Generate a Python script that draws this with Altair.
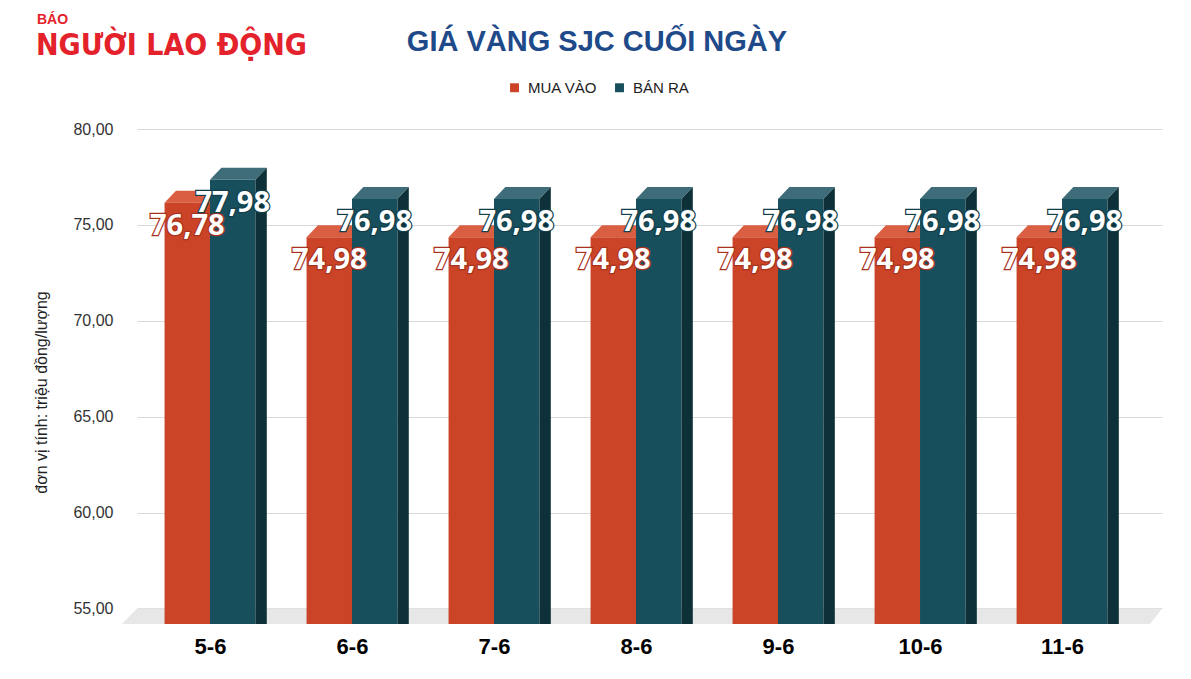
import altair as alt
import pandas as pd

# Values
dates = ["5-6", "6-6", "7-6", "8-6", "9-6", "10-6", "11-6"]
mua_vao = [76.78, 74.98, 74.98, 74.98, 74.98, 74.98, 74.98]
ban_ra = [77.98, 76.98, 76.98, 76.98, 76.98, 76.98, 76.98]
y_ticks = [55, 60, 65, 70, 75, 80]
series_names = ["MUA VÀO", "BÁN RA"]

RED_FRONT = "#CB4427"
RED_TOP = "#DA5E42"
RED_EDGE = "#A8321E"
TEAL_FRONT = "#184F5D"
TEAL_TOP = "#3E6D79"
TEAL_SIDE = "#0E3039"
TEAL_EDGE = "#123E49"
FLOOR = "#E7E7E7"
TITLE_BLUE = "#1F4A8A"
LOGO_RED = "#E3222B"
FONT = "Liberation Sans"

# fake 3D geometry, in data units
BAR_W = 0.32
DEPTH_X = 0.08
DEPTH_Y = 0.63
Y_MIN = 54.19
X_DOMAIN = [-0.514, 6.704]


def build(values, series, left):
    fronts, tops, sides, labels = [], [], [], []
    for i, (d, v) in enumerate(zip(dates, values)):
        x0 = i - BAR_W if left else i
        x1 = x0 + BAR_W
        f = v - DEPTH_Y
        key = f"{series}-{d}"
        fronts.append({"date": d, "series": series, "x0": x0, "x1": x1, "top": f})
        for x, lo, hi in [(x0, f, f), (x0 + DEPTH_X, f, v), (x1, f, v), (x1 + DEPTH_X, v, v)]:
            tops.append({"id": key, "x": x, "lo": lo, "hi": hi})
        for x, hi in [(x1, f), (x1 + DEPTH_X, v)]:
            sides.append({"id": key, "x": x, "lo": Y_MIN, "hi": hi})
        labels.append({"x": (x0 + x1) / 2, "value": v, "label": f"{v:.2f}".replace(".", ",")})
    return (pd.DataFrame(fronts), pd.DataFrame(tops), pd.DataFrame(sides), pd.DataFrame(labels))


red_front, red_top, _, red_lab = build(mua_vao, series_names[0], True)
teal_front, teal_top, teal_side, teal_lab = build(ban_ra, series_names[1], False)
fronts = pd.concat([red_front, teal_front])

floor = pd.DataFrame({
    "id": ["floor"] * 4,
    "x": [-0.62, X_DOMAIN[0], 6.62, X_DOMAIN[1]],
    "lo": [Y_MIN, Y_MIN, Y_MIN, 55],
    "hi": [Y_MIN, 55, 55, 55],
})

label_js = "[" + ",".join(f"'{d}'" for d in dates) + "][datum.value]"

x_scale = alt.Scale(domain=X_DOMAIN, nice=False, zero=False)
y_scale = alt.Scale(domain=[Y_MIN, 80], nice=False, zero=False)
x_axis = alt.Axis(
    values=list(range(len(dates))), labelExpr=label_js, title=None, grid=False,
    domain=False, ticks=False, labelFontSize=22, labelFontWeight="bold",
    labelColor="#000000", labelFont=FONT, labelPadding=12, labelFlush=False,
)
y_axis = alt.Axis(
    values=y_ticks, labelExpr="replace(format(datum.value, '.2f'), '.', ',')",
    title="đơn vị tính: triệu đồng/lượng", titleFont=FONT, titleFontSize=16,
    titleFontWeight="normal", titleColor="#222222", titleX=-96, titleY=263,
    titleAlign="center", titleBaseline="middle",
    domain=False, ticks=False, gridColor="#D9D9D9", labelFontSize=16,
    labelColor="#333333", labelFont=FONT, labelPadding=24,
)


def X(field):
    return alt.X(field, type="quantitative", scale=x_scale, axis=x_axis)


def Y(field):
    return alt.Y(field, type="quantitative", scale=y_scale, axis=y_axis, stack=None)


def poly(df, color):
    return alt.Chart(df).mark_area(color=color, opacity=1).encode(
        x=X("x"), y=Y("lo"), y2="hi", detail="id:N"
    )


front_layer = alt.Chart(fronts).mark_rect().encode(
    x=X("x0"), x2="x1", y=Y("top"), y2=alt.datum(Y_MIN),
    color=alt.Color(
        "series:N",
        scale=alt.Scale(domain=series_names, range=[RED_FRONT, TEAL_FRONT]),
        legend=alt.Legend(
            title=None, orient="none", legendX=370, legendY=-49, direction="horizontal",
            symbolType="square", symbolSize=80, symbolStrokeWidth=0, labelFont=FONT,
            labelFontSize=15, labelColor="#222222", columnPadding=14, labelOffset=6,
        ),
    ),
)


def value_labels(df, edge):
    base = alt.Chart(df).encode(x=X("x"), y=Y("value"), text="label:N")
    style = dict(font="Open Sans", fontSize=29, fontWeight="bold", dy=35, baseline="middle", align="center")
    under = base.mark_text(stroke=edge, strokeWidth=2.5, fill="white", **style)
    over = base.mark_text(fill="white", **style)
    return under + over


def deco(text, x, y, **kw):
    return alt.Chart(pd.DataFrame({"t": [text]})).mark_text(**kw).encode(
        text="t:N", x=alt.value(x), y=alt.value(y)
    )


title = deco("GIÁ VÀNG SJC CUỐI NGÀY", 460, -87, font=FONT, fontSize=29, fontWeight="bold",
             color=TITLE_BLUE, align="center", baseline="middle")
logo_small = deco("BÁO", -100, -109, font=FONT, fontSize=14, fontWeight="bold",
                  color=LOGO_RED, align="left", baseline="middle")
logo = deco("NGƯỜI LAO ĐỘNG", -101, -83, font="'DejaVu Sans Condensed', Roboto, sans-serif",
            fontSize=30, fontWeight="bold", color=LOGO_RED, align="left", baseline="middle")

chart = alt.layer(
    poly(floor, FLOOR),
    poly(red_top, RED_TOP),
    front_layer,
    poly(teal_top, TEAL_TOP),
    poly(teal_side, TEAL_SIDE),
    value_labels(red_lab, RED_EDGE),
    value_labels(teal_lab, TEAL_EDGE),
    title, logo_small, logo,
).properties(
    width=1025, height=495,
    autosize=alt.AutoSizeParams(type="none"),
    padding={"left": 129, "top": 121, "right": 21, "bottom": 47},
    background="white",
).configure_view(stroke=None)

chart.save("out.html", embed_options={"renderer": "svg", "actions": False})
